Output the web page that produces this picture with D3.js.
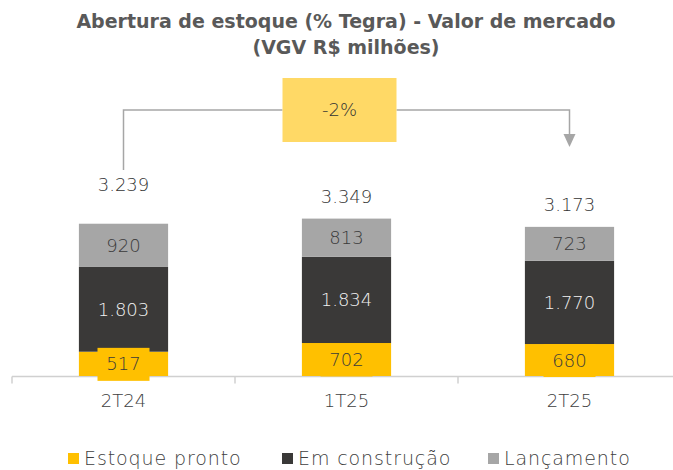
<!DOCTYPE html>
<html>
<head>
<meta charset="utf-8">
<script src="https://d3js.org/d3.v7.min.js"></script>
<style>
  body { margin: 0; background: #fff; }
  text { font-family: "DejaVu Sans", sans-serif; }
</style>
</head>
<body>
<script>
// data
const categories = ["2T24", "1T25", "2T25"];
const estoquePronto = [517, 702, 680];
const emConstrucao = [1803, 1834, 1770];
const lancamento = [920, 813, 723];
const totals = [3239, 3349, 3173];
const variationText = "-2%";
const seriesNames = ["Estoque pronto", "Em construção", "Lançamento"];
const titleLines = ["Abertura de estoque (% Tegra) - Valor de mercado", "(VGV R$ milhões)"];

const colors = ["#FFC000", "#3A3938", "#A6A6A6"];
const labelColors = ["#3A3A3A", "#F2F2F2", "#3A3A3A"];
const totalGap = [39, 22, 22];   // gap between bar top and total label centre

const W = 673, H = 470;
const svg = d3.select("body").append("svg").attr("width", W).attr("height", H);

const fmt = v => d3.format(",")(v).replace(/,/g, ".");

// scales
const x = d3.scaleBand().domain(categories).range([12, 681]);
const y = d3.scaleLinear().domain([0, 4000]).range([376, 188]);
const barW = x.bandwidth() * 0.4;
const cx = c => x(c) + x.bandwidth() / 2;

// title
svg.append("text").attr("x", 346).attr("text-anchor", "middle")
  .attr("font-weight", "bold").attr("font-size", 19).attr("fill", "#595959")
  .selectAll("tspan").data(titleLines).join("tspan")
  .attr("x", 346).attr("y", (d, i) => 28 + i * 26).text(d => d);

// stacked data
const rows = categories.map((c, i) => ({cat: c, s0: estoquePronto[i], s1: emConstrucao[i], s2: lancamento[i]}));
const stack = d3.stack().keys(["s0", "s1", "s2"])(rows);

// axis
const axisY = y(0) + 0.5;
svg.append("line").attr("x1", 12).attr("x2", W).attr("y1", axisY).attr("y2", axisY)
  .attr("stroke", "#D0D0D0").attr("stroke-width", 1.5);
svg.selectAll(".tick-b").data(categories).join("line")
  .attr("x1", d => x(d)).attr("x2", d => x(d))
  .attr("y1", axisY).attr("y2", axisY + 7)
  .attr("stroke", "#D0D0D0").attr("stroke-width", 1.5);
const ax = svg.append("g").attr("transform", `translate(0,${axisY})`)
  .call(d3.axisBottom(x).tickSize(0).tickPadding(18));
ax.select(".domain").remove();
ax.selectAll("text").attr("font-size", 18).attr("fill", "#404040")
  .attr("font-family", "DejaVu Sans").attr("font-weight", 300);

// bars
stack.forEach((layer, k) => {
  const g = svg.append("g");
  g.selectAll("rect").data(layer).join("rect")
    .attr("x", d => cx(d.data.cat) - barW / 2)
    .attr("width", barW)
    .attr("y", d => y(d[1]))
    .attr("height", d => y(d[0]) - y(d[1]))
    .attr("fill", colors[k]);
});

// segment labels
stack.forEach((layer, k) => {
  const g = svg.append("g");
  layer.forEach(d => {
    const v = d[1] - d[0];
    const mx = cx(d.data.cat), my = (y(d[0]) + y(d[1])) / 2;
    if (k === 0) {
      g.append("rect").attr("x", mx - 26).attr("width", 52)
        .attr("y", my - 16).attr("height", 33).attr("fill", colors[0]);
    }
    g.append("text").attr("x", mx).attr("y", my).attr("dy", "0.36em")
      .attr("text-anchor", "middle").attr("font-size", 18).attr("font-weight", 300)
      .attr("fill", labelColors[k]).text(fmt(v));
  });
});

// totals
svg.selectAll(".total").data(categories).join("text")
  .attr("x", d => cx(d))
  .attr("y", (d, i) => y(totals[i]) - totalGap[i]).attr("dy", "0.36em")
  .attr("text-anchor", "middle").attr("font-size", 18).attr("font-weight", 300)
  .attr("fill", "#333333")
  .text((d, i) => fmt(totals[i]));

// variation bracket
const bx0 = cx(categories[0]), bx1 = cx(categories[2]);
const by = 110, boxW = 114, boxH = 64, mid = (bx0 + bx1) / 2 - 7;
svg.append("path")
  .attr("d", `M${bx0},170V${by}H${mid - boxW / 2}M${mid + boxW / 2},${by}H${bx1}V136`)
  .attr("fill", "none").attr("stroke", "#A6A6A6").attr("stroke-width", 1.5);
svg.append("path").attr("d", `M${bx1 - 6},134L${bx1 + 6},134L${bx1},147Z`).attr("fill", "#A6A6A6");
svg.append("rect").attr("x", mid - boxW / 2).attr("y", by - boxH / 2)
  .attr("width", boxW).attr("height", boxH).attr("fill", "#FFD966");
svg.append("text").attr("x", mid).attr("y", by).attr("dy", "0.36em")
  .attr("text-anchor", "middle").attr("font-size", 18).attr("font-weight", 300)
  .attr("fill", "#333333").text(variationText);

// legend
const legX = [68, 282, 488];
const leg = svg.append("g");
seriesNames.forEach((n, i) => {
  leg.append("rect").attr("x", legX[i]).attr("y", 453).attr("width", 11).attr("height", 11).attr("fill", colors[i]);
  leg.append("text").attr("x", legX[i] + 16).attr("y", 458).attr("dy", "0.36em")
    .attr("font-size", 19).attr("font-weight", 300).attr("letter-spacing", 0.9)
    .attr("fill", "#404040").text(n);
});
</script>
</body>
</html>
